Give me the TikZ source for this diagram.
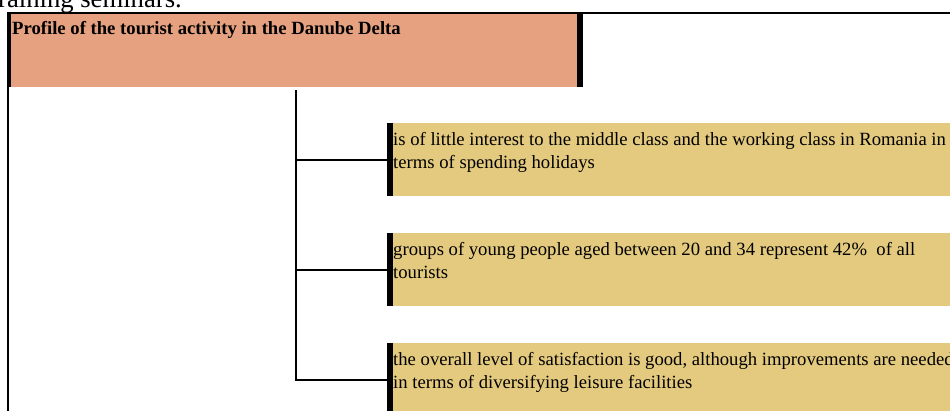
\documentclass[tikz,border=0pt]{standalone}
\usepackage{fontspec}
\setmainfont{Liberation Serif}
\usepackage{xcolor}
\usetikzlibrary{positioning,calc}

\definecolor{salmon}{RGB}{229,161,128}
\definecolor{sand}{RGB}{228,202,127}

\tikzset{
  headbox/.style={fill=salmon, minimum width=576pt, minimum height=74pt, inner sep=0pt, anchor=north west},
  itembox/.style={fill=sand, minimum width=600pt, minimum height=73pt, inner sep=0pt, anchor=north west},
  itemtext/.style={anchor=base west, inner sep=0pt, align=left, font=\fontsize{18.67}{23}\selectfont},
  edge/.style={line width=#1pt},
  link/.style={line width=2pt},
}

\begin{document}
\begin{tikzpicture}[x=1pt, y=-1pt]
  \useasboundingbox (0,0) rectangle (950,410);

  % tail of the paragraph above
  \node[anchor=base east, inner sep=0pt, font=\fontsize{26.67}{30}\selectfont] (prevtext) at (182,7.5) {training seminars.};

  % heading box
  \node[headbox] (profile) at (7,13) {};
  \node[anchor=base west, inner sep=0pt, font=\bfseries\fontsize{18.67}{22}\selectfont] (profiletext) at (12,34)
    {Profile of the tourist activity in the Danube Delta};
  \draw[edge=4] ([xshift=2pt]profile.north west) -- ([xshift=2pt]profile.south west);
  \draw[edge=6] ([xshift=-3pt]profile.north east) -- ([xshift=-3pt]profile.south east);

  % frame lines
  \coordinate (frametop) at (950,13);
  \coordinate (framebot) at (8,412);
  \draw[edge=1.5] (profile.north west) -- (frametop);
  \draw[edge=1.5] (profile.south west -| framebot) -- (framebot);

  % the three findings
  \node[itembox] (interest) at (387,123) {};
  \node[itembox] (youth) at (387,233) {};
  \node[itembox] (satisfaction) at (387,343) {};
  \foreach \b in {interest,youth,satisfaction}
    \draw[edge=6] ([xshift=3pt]\b.north west) -- ([xshift=3pt]\b.south west);

  % base anchor sits on the last line
  \node[itemtext] (interesttext) at ($(interest.north west)+(6,45)$)
    {is of little interest to the middle class and the working class in Romania in\\terms of spending holidays};
  \node[itemtext] (youthtext) at ($(youth.north west)+(6,45.5)$)
    {groups of young people aged between 20 and 34 represent 42\%\ \ of all\\tourists};
  \node[itemtext] (satisfactiontext) at ($(satisfaction.north west)+(6,45)$)
    {the overall level of satisfaction is good, although improvements are needed\\in terms of diversifying leisure facilities};

  % tree
  \coordinate (trunk) at (296,90);
  \draw[link] (trunk) |- (satisfaction.west);
  \draw[link] (trunk |- interest.west) -- (interest.west);
  \draw[link] (trunk |- youth.west) -- (youth.west);
\end{tikzpicture}
\end{document}
